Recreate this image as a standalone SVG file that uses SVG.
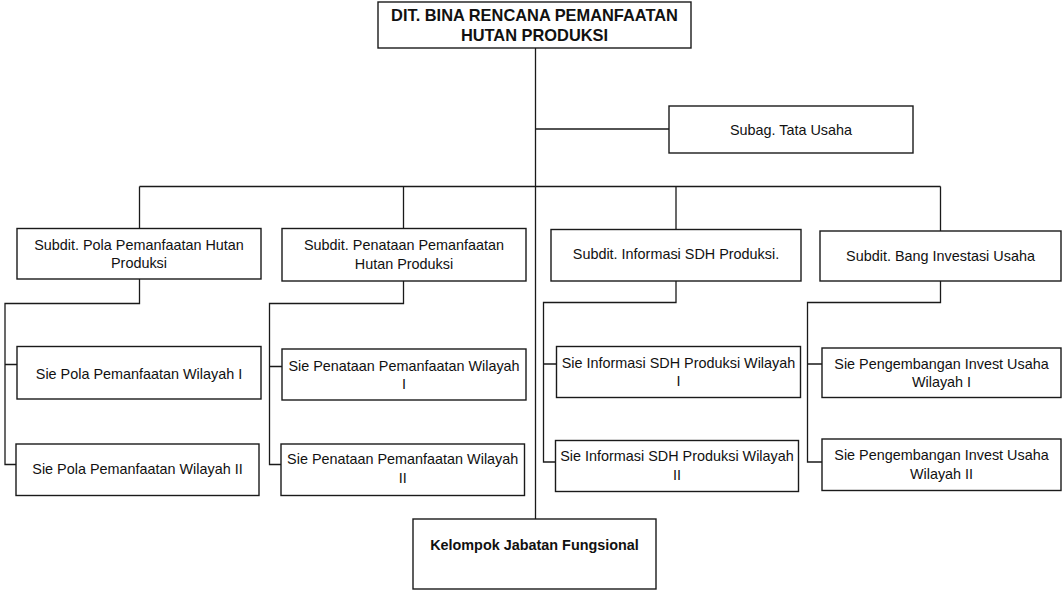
<svg xmlns="http://www.w3.org/2000/svg" width="1062" height="590" viewBox="0 0 1062 590">
<style>
.box{fill:#fff;stroke:#1a1a1a;stroke-width:1.4}
.ln{fill:none;stroke:#1a1a1a;stroke-width:1.3}
text{font-family:"Liberation Sans",Arial,sans-serif;font-size:14.4px;fill:#111;text-anchor:middle}
.b{font-weight:bold}
.t{font-size:16.4px}
</style>
<rect width="1062" height="590" fill="#fff"/>
<g id="connectors">
<path class="ln" d="M535.5 48V519"/>
<path class="ln" d="M535.5 129H669"/>
<path class="ln" d="M139.5 186.5H940.5M139.5 186.5V228.5M403.5 186.5V228.5M676 186.5V229.5M940.5 186.5V231"/>
<path class="ln" d="M139.5 279V303.5H5V464.5H17M5 364.5H17"/>
<path class="ln" d="M403.5 281V303.5H269.5V464.5H281M269.5 366.5H282"/>
<path class="ln" d="M676 281V302.5H543.5V462H555.5M543.5 364H556.5"/>
<path class="ln" d="M940.5 281V302.5H807.5V462H822M807.5 364H822"/>
</g>
<g id="n-dit"><rect class="box" x="378" y="2" width="313" height="46"/><text class="b t" x="534.5" y="20.7">DIT. BINA RENCANA PEMANFAATAN</text><text class="b t" x="534.5" y="40.7">HUTAN PRODUKSI</text></g>
<g id="n-subag"><rect class="box" x="669" y="106" width="244" height="47"/><text x="791" y="134.5">Subag. Tata Usaha</text></g>
<g id="n-subdit1"><rect class="box" x="17" y="228.5" width="244" height="50.5"/><text x="139" y="249.5">Subdit. Pola Pemanfaatan Hutan</text><text x="139" y="268">Produksi</text></g>
<g id="n-subdit2"><rect class="box" x="282" y="228.5" width="244" height="52.5"/><text x="404" y="250">Subdit. Penataan Pemanfaatan</text><text x="404" y="269">Hutan Produksi</text></g>
<g id="n-subdit3"><rect class="box" x="551" y="229.5" width="250" height="51.5"/><text x="676" y="259">Subdit. Informasi SDH Produksi.</text></g>
<g id="n-subdit4"><rect class="box" x="820" y="231" width="241" height="50"/><text x="940.5" y="260.5">Subdit. Bang Investasi Usaha</text></g>
<g id="n-pola1"><rect class="box" x="17" y="346.5" width="244" height="52.5"/><text x="139" y="379">Sie Pola Pemanfaatan Wilayah I</text></g>
<g id="n-pola2"><rect class="box" x="16" y="444" width="243" height="51.5"/><text x="137.5" y="474">Sie Pola Pemanfaatan Wilayah II</text></g>
<g id="n-penataan1"><rect class="box" x="282" y="349" width="244" height="51"/><text x="404" y="371">Sie Penataan Pemanfaatan Wilayah</text><text x="404" y="389">I</text></g>
<g id="n-penataan2"><rect class="box" x="281" y="444" width="243.5" height="51.5"/><text x="402.7" y="464">Sie Penataan Pemanfaatan Wilayah</text><text x="402.7" y="483">II</text></g>
<g id="n-info1"><rect class="box" x="556.5" y="346.5" width="244" height="51"/><text x="678.5" y="367.5">Sie Informasi SDH Produksi Wilayah</text><text x="678.5" y="386">I</text></g>
<g id="n-info2"><rect class="box" x="555.5" y="440.5" width="243" height="51"/><text x="677" y="461">Sie Informasi SDH Produksi Wilayah</text><text x="677" y="479.5">II</text></g>
<g id="n-peng1"><rect class="box" x="822" y="348" width="239" height="49.5"/><text x="941.5" y="368.5">Sie Pengembangan Invest Usaha</text><text x="941.5" y="387">Wilayah I</text></g>
<g id="n-peng2"><rect class="box" x="822" y="439" width="239" height="51.5"/><text x="941.5" y="460">Sie Pengembangan Invest Usaha</text><text x="941.5" y="478.5">Wilayah II</text></g>
<g id="n-kelompok"><rect class="box" x="413" y="519" width="243" height="70"/><text class="b" x="534.5" y="550">Kelompok Jabatan Fungsional</text></g>
</svg>
